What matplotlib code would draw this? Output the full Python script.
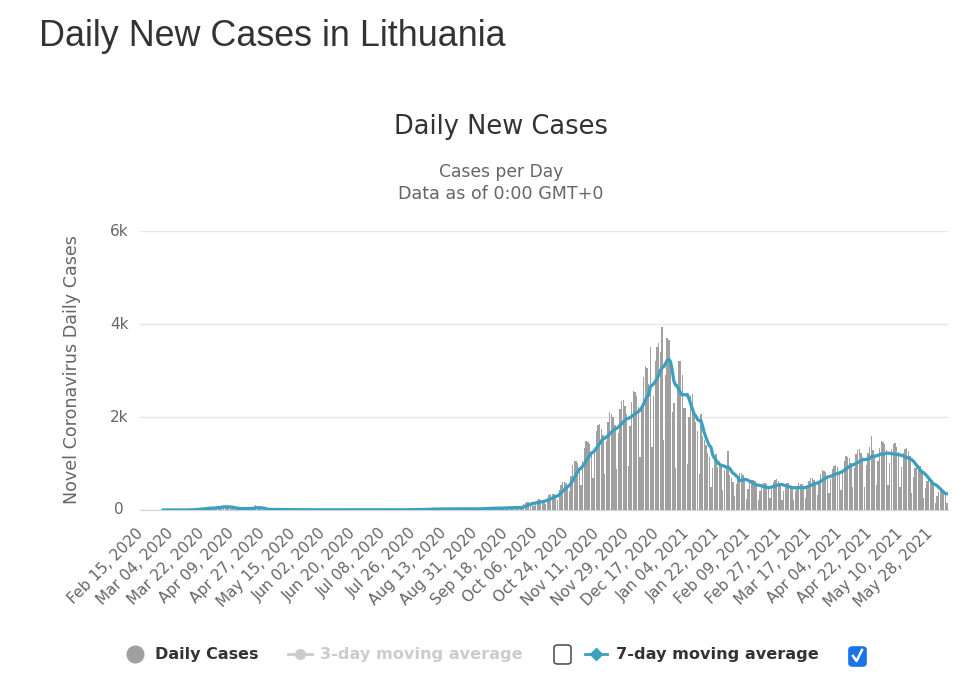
import numpy as np
import pandas as pd
import matplotlib
matplotlib.use("Agg")
import matplotlib.pyplot as plt
from matplotlib.lines import Line2D
from matplotlib.patches import FancyBboxPatch

# ── Data: daily new cases, Lithuania, Feb 15 2020 .. Jun 07 2021 ──
START_DATE = "2020-02-15"

feb_2020 = [0, 0, 0, 0, 0, 0, 0, 0, 0, 0, 0, 0, 0, 1, 0]
mar_2020 = [0, 0, 0, 0, 0, 0, 0, 0, 1, 2, 0, 3, 2, 5, 8, 5, 14, 9, 20, 25, 32, 42,
            26, 27, 40, 49, 40, 61, 39, 44, 58]
apr_2020 = [78, 66, 62, 110, 49, 74, 43, 46, 32, 38, 35, 28, 19, 30, 42, 35, 28, 39,
            22, 26, 45, 72, 112, 43, 17, 14, 16, 9, 11, 15]
may_2020 = [9, 12, 10, 7, 11, 15, 9, 8, 6, 10, 12, 8, 5, 3, 9, 7, 11, 6, 4, 3, 8, 5,
            4, 7, 2, 6, 5, 9, 3, 1, 4]
jun_2020 = [2, 3, 5, 1, 4, 6, 3, 2, 4, 3, 2, 1, 5, 7, 3, 2, 1, 4, 3, 2, 6, 5, 3, 1,
            4, 2, 3, 6, 2, 5]
jul_2020 = [3, 1, 4, 6, 2, 1, 3, 5, 7, 4, 2, 3, 6, 9, 5, 3, 4, 8, 6, 2, 10, 7, 9, 13,
            11, 5, 8, 15, 12, 9, 14]
aug_2020 = [22, 16, 9, 18, 24, 27, 31, 15, 12, 21, 28, 19, 26, 33, 29, 17, 10, 25, 32,
            27, 19, 36, 23, 14, 17, 29, 38, 21, 31, 13, 10]
sep_2020 = [28, 36, 27, 41, 44, 24, 18, 37, 46, 52, 35, 54, 29, 22, 47, 58, 41, 63, 60,
            34, 27, 53, 62, 71, 66, 48, 37, 63, 119, 154]
oct_2020 = [171, 163, 158, 149, 82, 166, 205, 231, 224, 221, 196, 128, 252, 313, 352,
            341, 338, 306, 219, 431, 544, 608, 593, 581, 524, 402, 741, 975, 1049,
            1062, 1005]
nov_2020 = [931, 541, 1049, 1330, 1478, 1452, 1411, 1279, 694, 1288, 1697, 1822, 1849,
            1751, 1613, 776, 1490, 1902, 2101, 2075, 2010, 1826, 890, 1652, 2170, 2340,
            2365, 2241, 2064, 948]
dec_2020 = [1810, 2320, 2556, 2531, 2447, 2220, 1150, 2200, 2850, 3100, 3050, 2700,
            3500, 1350, 2450, 3200, 3500, 3590, 3400, 3935, 1500, 2900, 3700, 3650,
            3245, 2100, 2300, 900, 2700, 3200, 3200]
jan_2021 = [2900, 2200, 2200, 1000, 2000, 2450, 2500, 2100, 1900, 1700, 780, 2060, 1600,
            1500, 1400, 1235, 1150, 500, 900, 1150, 1200, 935, 1050, 1000, 420, 850,
            950, 1270, 750, 680, 610]
feb_2021 = [302, 555, 731, 788, 801, 752, 690, 246, 452, 601, 645, 652, 615, 569, 212,
            414, 523, 580, 571, 557, 499, 251, 462, 611, 655, 668, 627, 581]
mar_2021 = [219, 401, 533, 572, 580, 548, 507, 214, 412, 522, 581, 569, 559, 498, 260,
            479, 633, 680, 690, 651, 602, 316, 610, 775, 858, 846, 823, 741, 363, 674,
            887]
apr_2021 = [955, 966, 914, 843, 428, 822, 1050, 1160, 1146, 1110, 1004, 490, 911, 1195,
            1290, 1302, 1236, 1137, 502, 962, 1230, 1357, 1590, 1288, 1176, 548, 1046,
            1342, 1475, 1462]
may_2021 = [1415, 1280, 540, 1006, 1315, 1421, 1434, 1362, 1255, 498, 930, 1216, 1314,
            1326, 1259, 1160, 366, 701, 897, 990, 978, 948, 857, 255, 471, 620, 668,
            677, 639, 590, 156]
jun_2021 = [301, 382, 425, 416, 406, 365, 140]

Y_TICKS = [0, 2000, 4000, 6000]
Y_TICK_LABELS = ["0", "2k", "4k", "6k"]
TICK_EVERY = 18   # days between x labels

daily = pd.Series(feb_2020 + mar_2020 + apr_2020 + may_2020 + jun_2020 + jul_2020
                  + aug_2020 + sep_2020 + oct_2020 + nov_2020 + dec_2020 + jan_2021
                  + feb_2021 + mar_2021 + apr_2021 + may_2021 + jun_2021, dtype=float)
dates = pd.date_range(START_DATE, periods=len(daily), freq="D")
ma7 = daily.rolling(7, min_periods=1).mean().where(daily.cumsum() > 0)

# ── Colours / helpers ──
BAR_GREY = "#a0a0a0"
TEAL = "#3b9fbf"
TEXT_DARK = "#333333"
TEXT_MID = "#666666"
W, H = 963, 684


def fx(px):
    return px / W


def fy(py):
    return 1 - py / H


fig = plt.figure(figsize=(W / 100, H / 100), dpi=100, facecolor="white")

# page title + chart titles
fig.text(fx(39), fy(37), "Daily New Cases in Lithuania", fontsize=25.8,
         family="Liberation Sans", color=TEXT_DARK, va="center", ha="left")
fig.text(fx(501), fy(127), "Daily New Cases", fontsize=18.5, color=TEXT_DARK,
         va="center", ha="center")
fig.text(fx(501), fy(172), "Cases per Day", fontsize=12.3, color=TEXT_MID,
         va="center", ha="center")
fig.text(fx(501), fy(194), "Data as of 0:00 GMT+0", fontsize=12.6, color=TEXT_MID,
         va="center", ha="center")

ax = fig.add_axes([fx(140), fy(510), fx(948) - fx(140), fy(231) - fy(510)])
x = np.arange(len(daily))
ax.bar(x, daily, width=0.8, color=BAR_GREY, linewidth=0, zorder=2)
ax.plot(x, ma7, color=TEAL, linewidth=2.3, zorder=3, solid_capstyle="round")

ax.set_xlim(-0.5, len(daily) - 0.5)
ax.set_ylim(0, 6000)
ax.set_yticks(Y_TICKS)
ax.set_yticklabels(Y_TICK_LABELS)
ax.yaxis.grid(True, color="#e6e6e6", linewidth=1, zorder=0)
ax.set_axisbelow(True)
for side in ["top", "right", "left"]:
    ax.spines[side].set_visible(False)
ax.spines["bottom"].set_color("#ccd6eb")
ax.spines["bottom"].set_zorder(1)

tick_pos = x[::TICK_EVERY]
ax.set_xticks(tick_pos)
ax.set_xticklabels([dates[i].strftime("%b %d, %Y") for i in tick_pos],
                   rotation=45, ha="right", va="center", rotation_mode="anchor")
ax.tick_params(axis="x", length=0, pad=15, labelsize=11, labelcolor=TEXT_MID)
ax.tick_params(axis="y", length=0, pad=15, labelsize=11, labelcolor=TEXT_MID)
for lbl in ax.get_yticklabels():
    lbl.set_horizontalalignment("center")
    lbl.set_verticalalignment("center")

fig.text(fx(72), fy(370), "Novel Coronavirus Daily Cases", rotation=90,
         fontsize=12.6, color=TEXT_MID, va="center", ha="center")

# ── Legend (drawn by hand, Highcharts style) ──
ly = fy(654)
fig.add_artist(Line2D([fx(135)], [ly], marker="o", markersize=12, color=BAR_GREY,
                      transform=fig.transFigure))
fig.text(fx(155), ly, "Daily Cases", fontsize=11.5, weight="bold", color=TEXT_DARK,
         va="center", ha="left")

fig.add_artist(Line2D([fx(288), fx(312)], [ly, ly], color="#cccccc", linewidth=2,
                      transform=fig.transFigure))
fig.add_artist(Line2D([fx(300)], [ly], marker="o", markersize=7, color="#cccccc",
                      transform=fig.transFigure))
fig.text(fx(320), ly, "3-day moving average", fontsize=11.6, weight="bold",
         color="#cccccc", va="center", ha="left")

fig.add_artist(FancyBboxPatch((fx(554), fy(664)), fx(17), fy(645) - fy(664),
                              boxstyle="round,pad=0,rounding_size=0.004",
                              facecolor="white", edgecolor="#555555", linewidth=1.2,
                              transform=fig.transFigure))

fig.add_artist(Line2D([fx(585), fx(607)], [ly, ly], color=TEAL, linewidth=2,
                      transform=fig.transFigure))
fig.add_artist(Line2D([fx(596)], [ly], marker="D", markersize=6, color=TEAL,
                      transform=fig.transFigure))
fig.text(fx(616), ly, "7-day moving average", fontsize=11.6, weight="bold",
         color=TEXT_DARK, va="center", ha="left")

fig.add_artist(FancyBboxPatch((fx(849), fy(666)), fx(17), fy(647) - fy(666),
                              boxstyle="round,pad=0,rounding_size=0.004",
                              facecolor="#1a73e8", edgecolor="#1a73e8", linewidth=1.2,
                              transform=fig.transFigure))
fig.add_artist(Line2D([fx(853), fx(856.5), fx(862)], [fy(656), fy(661), fy(650)],
                      color="white", linewidth=1.8, transform=fig.transFigure))

fig.savefig("out.png", dpi=100, facecolor="white")
